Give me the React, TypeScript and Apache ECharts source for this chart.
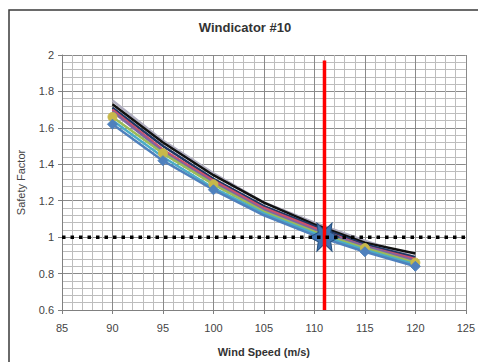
import React, { useEffect, useRef } from "react";
import * as echarts from "echarts";

const speeds = [90, 95, 100, 105, 110, 115, 120];
const sfLavender = [1.75, 1.53, 1.35, 1.19, 1.08, 0.98, 0.89];
const sfBlack = [1.73, 1.52, 1.34, 1.19, 1.07, 0.97, 0.91];
const sfNavy = [1.71, 1.5, 1.32, 1.17, 1.06, 0.96, 0.89];
const sfRed = [1.7, 1.48, 1.31, 1.16, 1.05, 0.95, 0.88];
const sfPurple = [1.69, 1.47, 1.3, 1.15, 1.04, 0.95, 0.87];
const sfGreen = [1.66, 1.46, 1.29, 1.14, 1.03, 0.94, 0.86];
const sfAqua = [1.64, 1.44, 1.27, 1.13, 1.02, 0.93, 0.85];
const sfBlue = [1.62, 1.42, 1.26, 1.12, 1.01, 0.92, 0.84];

const critSpeed = [111];
const critSF = [1.0];
const limitLineX = [111, 111];
const limitLineY = [0.6, 1.97];
const unityX = [85, 125.7];
const unityY = [1, 1];

const xTicks = { min: 85, max: 125, interval: 5 };
const yTicks = { min: 0.6, max: 2, interval: 0.2 };

const STAR =
  "path://M24 12 L17 15.5 L18 22.4 L12 17 L6 22.4 L7 15.5 L0 12 L7 8.5 L6 1.6 L12 7 L18 1.6 L17 8.5 Z";

function mk(name: string, vals: number[], color: string, symbol: string, size: number, mcolor?: string) {
  return {
    name,
    type: "line",
    data: speeds.map((s, i) =>
      s === 105 || s === 110 ? { value: [s, vals[i]], symbol: "none" } : { value: [s, vals[i]] }
    ),
    symbol,
    symbolSize: size,
    showSymbol: true,
    lineStyle: { color, width: 2.5 },
    itemStyle: { color: mcolor || color, borderColor: mcolor || color },
    z: 3,
  };
}

export default function App() {
  const ref = useRef<HTMLDivElement>(null);
  useEffect(() => {
    if (!ref.current) return;
    const chart = echarts.init(ref.current, undefined, { renderer: "svg" });
    const font = "'Liberation Sans', Arial, sans-serif";
    chart.setOption({
      animation: false,
      backgroundColor: "#ffffff",
      textStyle: { fontFamily: font },
      title: {
        text: "Windicator #10",
        left: 240,
        textAlign: "center",
        top: 16,
        textStyle: { fontSize: 13, fontWeight: "bold", color: "#333", fontFamily: font },
      },
      graphic: [
        {
          type: "rect",
          shape: { x: 9, y: 10, width: 600, height: 400 },
          style: { fill: "none", stroke: "#3a3a3a", lineWidth: 1.5 },
          silent: true,
          z: 100,
        },
      ],
      grid: { left: 62, right: 12, top: 55, bottom: 51, containLabel: false },
      xAxis: {
        type: "value",
        min: xTicks.min,
        max: xTicks.max,
        interval: xTicks.interval,
        name: "Wind Speed (m/s)",
        nameLocation: "middle",
        nameGap: 36,
        nameTextStyle: { fontSize: 11, fontWeight: "bold", color: "#333" },
        axisLine: { show: true, onZero: false, lineStyle: { color: "#808080" } },
        axisTick: { show: true, length: 4, lineStyle: { color: "#808080" } },
        axisLabel: { fontSize: 11, color: "#444", margin: 12 },
        splitLine: { show: true, lineStyle: { color: "#8a8a8a", width: 1 } },
        minorTick: { show: false, splitNumber: 5 },
        minorSplitLine: { show: true, lineStyle: { color: "#bdbdbd", width: 1 } },
      },
      yAxis: {
        type: "value",
        min: yTicks.min,
        max: yTicks.max,
        interval: yTicks.interval,
        name: "Safety Factor",
        nameLocation: "middle",
        nameGap: 36,
        nameTextStyle: { fontSize: 11, color: "#444" },
        axisLine: { show: true, lineStyle: { color: "#808080" } },
        axisTick: { show: true, length: 4, lineStyle: { color: "#808080" } },
        axisLabel: {
          fontSize: 11,
          color: "#444",
          margin: 8,
          formatter: (v: number) => String(Math.round(v * 10) / 10),
        },
        splitLine: { show: true, lineStyle: { color: "#8a8a8a", width: 1 } },
        minorTick: { show: false, splitNumber: 5 },
        minorSplitLine: { show: true, lineStyle: { color: "#bdbdbd", width: 1 } },
      },
      series: [
        mk("S1", sfLavender, "#b0aec0", "none", 1),
        mk("S2", sfBlack, "#111111", "none", 1),
        mk("S3", sfNavy, "#1f3864", "none", 1),
        mk("S4", sfRed, "#d0506a", "none", 1),
        mk("S5", sfPurple, "#8064a2", "none", 1),
        mk("S6", sfGreen, "#9bbb59", "circle", 9, "#c8b84a"),
        mk("S7", sfAqua, "#4bacc6", "none", 1),
        mk("S8", sfBlue, "#4f81bd", "diamond", 10, "#4f81bd"),
        {
          name: "Critical",
          type: "scatter",
          data: critSpeed.map((s, i) => [s, critSF[i]]),
          symbol: STAR,
          symbolSize: [30, 28],
          itemStyle: { color: "#3f72b0", borderColor: "#24507f", borderWidth: 1, opacity: 1 },
          z: 5,
        },
        {
          name: "Limit",
          type: "line",
          data: limitLineX.map((x, i) => [x, limitLineY[i]]),
          symbol: "none",
          lineStyle: { color: "#ff0000", width: 3.5 },
          z: 6,
        },
        {
          name: "Unity",
          type: "line",
          data: unityX.map((x, i) => [x, unityY[i]]),
          symbol: "none",
          clip: false,
          lineStyle: { color: "#000000", width: 3.5, type: [3.5, 5], cap: "butt" },
          z: 7,
        },
      ],
    });
    return () => chart.dispose();
  }, []);
  return <div ref={ref} style={{ width: 478, height: 362, position: "absolute", left: 0, top: 0 }} />;
}
